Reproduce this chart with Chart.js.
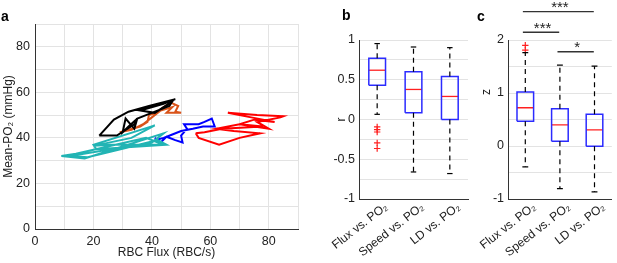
<!DOCTYPE html>
<html><head><meta charset="utf-8">
<script src="https://cdn.jsdelivr.net/npm/chart.js@4/dist/chart.umd.min.js"></script>
<style>
html,body{margin:0;padding:0;background:#fff;width:617px;height:263px;overflow:hidden;position:relative;font-family:"Liberation Sans",Arial,sans-serif;}
canvas{position:absolute;top:0;}
.lbl{position:absolute;font-weight:bold;font-size:14px;line-height:14px;color:#000;}
.ytitle{position:absolute;font-size:12px;line-height:14px;color:#222;transform:rotate(-90deg);transform-origin:center;}
</style></head><body>
<canvas id="ca" width="300" height="263" style="left:0"></canvas>
<canvas id="cb" width="145" height="263" style="left:330px"></canvas>
<canvas id="cc" width="142" height="263" style="left:475px"></canvas>
<div class="lbl" style="left:1px;top:9px">a</div>
<div class="lbl" style="left:342px;top:8px">b</div>
<div class="lbl" style="left:477px;top:9px">c</div>
<div class="ytitle" style="left:483px;top:85px">z</div>
<script>
// ---------- Panel a data (RBC flux vs mean PO2 trajectories) ----------
const blackFlux  = [22,27,32,39,48,44,36,41,47,46,38,35,32,30,31,34,35,34,28,26,22];
const blackPO2   = [41,48,51.5,54,57,55,52,51,56,54,50,48.5,45,42.5,48.5,44,48.5,46,41,41,41];
const orangeFlux = [29,36,38.5,39,41.5,44,46.5,49,48,50,45,47,43,40,37,33,29];
const orangePO2  = [42.5,45,47,50,51,53.5,55.5,54,51.5,51,51,53.5,52,49,46,43.5,42.5];
const cyanFlux   = [9,17,44,40,12,18,42,45,21,20,41,33,20,26,44,38,14,9];
const cyanPO2    = [32,31,42,38,32,31.5,39,37,35,37,45.5,40,36.5,37,37,40,33,32];
const blueFlux   = [41,43,45,48,50.5,50,52,51,56,58,60.5,61.5,57.5,54,50,47,44,41];
const bluePO2    = [40,38,40.5,39,38,41,44,46,46,47,48.5,45,45,44,43,41.5,40,39];
const redFlux    = [55,56,63,70,77,68,62,70,80,76,84,85,76,66,74,82,75,70,78,64,58,55];
const redPO2     = [42,40,37,40,42,43,44,46,44,47,49,49.5,50,51,49,47,48,46,45,44,42.5,42];

// ---------- Panels b/c data (box plot statistics) ----------
const groups = ['Flux vs. PO\u2082','Speed vs. PO\u2082','LD vs. PO\u2082'];
const rMin = [0.065,-0.66,-0.68];
const rQ1  = [0.43,0.085,0.0];
const rMed = [0.62,0.378,0.29];
const rQ3  = [0.77,0.60,0.54];
const rMax = [0.955,0.912,0.904];
const rOutliers = [[-0.094,-0.127,-0.157,-0.294,-0.365],[],[]];
const zMin = [-0.392,-0.804,-0.867];
const zQ1  = [0.468,0.088,-0.007];
const zMed = [0.722,0.40,0.305];
const zQ3  = [1.018,0.703,0.60];
const zMax = [1.76,1.525,1.506];
const zOutliers = [[1.81,1.9],[],[]];
const sigFrom = [1,1,2];
const sigTo   = [3,2,3];
const sigLabel= ['***','***','*'];
const sigLevel= [2.537,2.146,1.778];

const FONT = "'Liberation Sans', Arial, sans-serif";
const TXT = '#222';
const AXIS = '#333';
const GRID = '#e3e3e3';

function pts(xs, ys){ return xs.map((x,i)=>({x:x,y:ys[i]})); }

// ---------- Panel a ----------
const traj = [
  [blackFlux, blackPO2, '#000000'],
  [orangeFlux, orangePO2, '#d95319'],
  [cyanFlux, cyanPO2, '#22b4b4'],
  [blueFlux, bluePO2, '#0000ff'],
  [redFlux, redPO2, '#ff0000']
];
new Chart(document.getElementById('ca'), {
  type:'scatter',
  data:{datasets: traj.map(t=>({data:pts(t[0],t[1]), showLine:true, borderColor:t[2], borderWidth:2, pointRadius:0, fill:false, tension:0}))},
  options:{
    animation:false, responsive:false, events:[],
    plugins:{legend:{display:false}, tooltip:{enabled:false}},
    layout:{padding:{top:24,right:2,left:0,bottom:0}},
    scales:{
      x:{type:'linear', min:0, max:90,
        grid:{color:GRID, drawTicks:false},
        border:{color:AXIS, width:1},
        ticks:{stepSize:10, padding:5, color:TXT, font:{family:FONT,size:12.5}, maxRotation:0,
          callback:v=> (v%20===0 && v<90) ? String(v) : ''},
        title:{display:true, text:'RBC Flux (RBC/s)', color:TXT, font:{family:FONT,size:12}, padding:{top:0,bottom:3}},
        afterFit:s=>{s.height=34; s.paddingLeft=0; s.paddingRight=0;}
      },
      y:{type:'linear', min:0, max:90,
        grid:{color:GRID, drawTicks:false},
        border:{color:AXIS, width:1},
        ticks:{stepSize:10, padding:5, color:TXT, font:{family:FONT,size:12.5},
          callback:v=> (v%20===0 && v<90) ? String(v) : ''},
        title:{display:true, text:'Mean-PO\u2082 (mmHg)', color:TXT, font:{family:FONT,size:12}, padding:{top:1,bottom:0}},
        afterFit:s=>{s.width=35;}
      }
    }
  }
});

// ---------- Box plot builder ----------
function boxDatasets(mn,q1,md,q3,mx,outs,w,cap){
  const ds=[];
  for(let i=0;i<q1.length;i++){
    const c=i+1;
    ds.push({data:[{x:c,y:q3[i]},{x:c,y:mx[i]}], showLine:true, borderColor:'#000', borderWidth:1.2, borderDash:[5,4], pointRadius:0});
    ds.push({data:[{x:c,y:q1[i]},{x:c,y:mn[i]}], showLine:true, borderColor:'#000', borderWidth:1.2, borderDash:[5,4], pointRadius:0});
    ds.push({data:[{x:c-cap,y:mx[i]},{x:c+cap,y:mx[i]}], showLine:true, borderColor:'#000', borderWidth:1.2, pointRadius:0});
    ds.push({data:[{x:c-cap,y:mn[i]},{x:c+cap,y:mn[i]}], showLine:true, borderColor:'#000', borderWidth:1.2, pointRadius:0});
    ds.push({data:[{x:c-w,y:q1[i]},{x:c+w,y:q1[i]},{x:c+w,y:q3[i]},{x:c-w,y:q3[i]},{x:c-w,y:q1[i]}], showLine:true, borderColor:'#2b2bff', borderWidth:1.5, pointRadius:0});
    ds.push({data:[{x:c-w,y:md[i]},{x:c+w,y:md[i]}], showLine:true, borderColor:'#ff2020', borderWidth:1.3, pointRadius:0});
    if(outs[i].length){
      ds.push({data:outs[i].map(v=>({x:c,y:v})), showLine:false, pointStyle:'cross', pointRadius:3.2, borderColor:'#ff2020', borderWidth:1.2, backgroundColor:'#ff2020'});
    }
  }
  return ds;
}

function boxOptions(ymin,ymax,step,labelEvery,yw,padTop,padRight,showTitle){
  return {
    animation:false, responsive:false, events:[],
    plugins:{legend:{display:false}, tooltip:{enabled:false}},
    layout:{padding:{top:padTop,right:padRight,left:0,bottom:0}},
    scales:{
      x:{type:'linear', min:0.5, max:3.5,
        grid:{display:false, drawTicks:false},
        border:{color:AXIS, width:1},
        afterBuildTicks:s=>{ s.ticks=[1,2,3].map(v=>({value:v})); },
        ticks:{autoSkip:false, minRotation:38, maxRotation:38, padding:1, labelOffset:9, color:TXT, font:{family:FONT,size:12},
          callback:v=>groups[Math.round(v)-1]},
        afterFit:s=>{s.height=64; s.paddingLeft=0; s.paddingRight=0;}
      },
      y:{type:'linear', min:ymin, max:ymax,
        grid:{color:GRID, drawTicks:false},
        border:{color:AXIS, width:1},
        ticks:{stepSize:step, padding:4, color:TXT, font:{family:FONT,size:12.5},
          callback:v=>{ const k=v/labelEvery; return Math.abs(k-Math.round(k))<1e-6 ? String(Math.round(v*100)/100) : ''; }},
        title:{display:showTitle, text:'r', color:TXT, font:{family:FONT,size:12}, padding:{top:4,bottom:0}},
        afterFit:s=>{s.width=yw;}
      }
    }
  };
}

// ---------- Panel b ----------
new Chart(document.getElementById('cb'), {
  type:'scatter',
  data:{datasets: boxDatasets(rMin,rQ1,rMed,rQ3,rMax,rOutliers,0.23,0.075)},
  options: boxOptions(-1,1,0.25,0.5,29,40,7,true)
});

// ---------- Panel c ----------
const sigPlugin = {
  id:'sig',
  afterDatasetsDraw(chart){
    const ctx=chart.ctx, xs=chart.scales.x, ys=chart.scales.y;
    ctx.save();
    ctx.fillStyle='#222';
    ctx.font="15px "+FONT;
    ctx.textAlign='center';
    ctx.textBaseline='alphabetic';
    for(let i=0;i<sigLabel.length;i++){
      const x=xs.getPixelForValue((sigFrom[i]+sigTo[i])/2);
      const y=ys.getPixelForValue(sigLevel[i]);
      ctx.fillText(sigLabel[i], x, y+0.5);
    }
    ctx.restore();
  }
};
const cDatasets = boxDatasets(zMin,zQ1,zMed,zQ3,zMax,zOutliers,0.24,0.085);
for(let i=0;i<sigLabel.length;i++){
  cDatasets.push({data:[{x:sigFrom[i]-0.07,y:sigLevel[i]},{x:sigTo[i]-0.02,y:sigLevel[i]}], showLine:true, borderColor:'#333', borderWidth:1.3, pointRadius:0, clip:false});
}
new Chart(document.getElementById('cc'), {
  type:'scatter',
  data:{datasets: cDatasets},
  options: boxOptions(-1,2,0.5,1,33,40,1,false),
  plugins:[sigPlugin]
});
</script>
</body></html>
